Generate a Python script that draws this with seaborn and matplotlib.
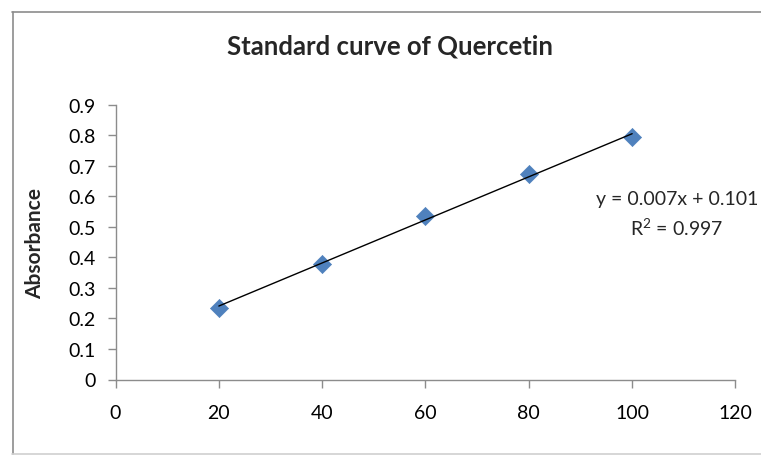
import numpy as np
import pandas as pd
import matplotlib
matplotlib.use("Agg")
import matplotlib.pyplot as plt
import seaborn as sns
from matplotlib.lines import Line2D

# Data
concentration = [20, 40, 60, 80, 100]
absorbance = [0.235, 0.378, 0.535, 0.673, 0.793]
x_ticks = [0, 20, 40, 60, 80, 100, 120]
y_ticks = [0, 0.1, 0.2, 0.3, 0.4, 0.5, 0.6, 0.7, 0.8, 0.9]
y_tick_labels = ["0", "0.1", "0.2", "0.3", "0.4", "0.5", "0.6", "0.7", "0.8", "0.9"]
title = "Standard curve of Quercetin"
y_label = "Absorbance"
equation = "y = 0.007x + 0.101"
r_squared = "R$^2$ = 0.997"

sns.set_theme(style="white")
plt.rcParams['font.family'] = ['Lato', 'DejaVu Sans']
plt.rcParams['mathtext.fontset'] = 'custom'
plt.rcParams['mathtext.rm'] = 'Lato'

df = pd.DataFrame({"conc": concentration, "abs": absorbance})

fig = plt.figure(figsize=(7.61, 4.56), dpi=100)
ax = fig.add_axes([115.5 / 761, 1 - 380.5 / 456, (735.5 - 115.5) / 761, (380.5 - 105.7) / 456])

# trendline (linear fit of the data)
slope, intercept = np.polyfit(df["conc"], df["abs"], 1)
xf = np.array([min(concentration), max(concentration)])
sns.lineplot(x=xf, y=slope * xf + intercept, color="black", linewidth=1.0, ax=ax, zorder=3)

sns.scatterplot(data=df, x="conc", y="abs", marker="D", s=85, color="#4F81BD",
                edgecolor="#4F81BD", linewidth=0.5, ax=ax, zorder=2)

ax.set_xlim(0, 120)
ax.set_ylim(0, 0.9)
ax.set_xticks(x_ticks)
ax.set_xticklabels([str(v) for v in x_ticks])
ax.set_yticks(y_ticks)
ax.set_yticklabels(y_tick_labels)
ax.set_xlabel("")
ax.set_ylabel(y_label, fontsize=15, fontweight="bold")
ax.yaxis.set_label_coords((35 - 115.5) / 620, 0.5)
ax.yaxis.label.set_va("center")

for s in ["top", "right"]:
    ax.spines[s].set_visible(False)
for s in ["left", "bottom"]:
    ax.spines[s].set_color("#8C8C8C")
    ax.spines[s].set_linewidth(1.0)

ax.tick_params(axis="x", direction="out", length=5.5, width=1.0, color="#8C8C8C",
               labelsize=14, pad=12, colors="#8C8C8C", labelcolor="black", bottom=True)
ax.tick_params(axis="y", direction="out", length=5.5, width=1.0, color="#8C8C8C",
               labelsize=14, pad=9, colors="#8C8C8C", labelcolor="black", left=True)

fig.text(390 / 761, 1 - 46 / 456, title, ha="center", va="center", fontsize=18.5, fontweight="bold")

fig.text(677 / 761, 1 - 200 / 456, equation, ha="center", va="center", fontsize=14)
fig.text(677 / 761, 1 - 228 / 456, r_squared, ha="center", va="center", fontsize=14)

# outer chart border (top, left, bottom)
bc = "#8C8C8C"
fig.add_artist(Line2D([12 / 761, 1.0], [1 - 12.5 / 456, 1 - 12.5 / 456], transform=fig.transFigure, color=bc, linewidth=1.2))
fig.add_artist(Line2D([12.5 / 761, 12.5 / 761], [1 - 12.5 / 456, 1 - 454.5 / 456], transform=fig.transFigure, color=bc, linewidth=1.2))
fig.add_artist(Line2D([12 / 761, 1.0], [1 - 454.5 / 456, 1 - 454.5 / 456], transform=fig.transFigure, color="#D0D0D0", linewidth=1.2))

fig.savefig("out.png", dpi=100)
